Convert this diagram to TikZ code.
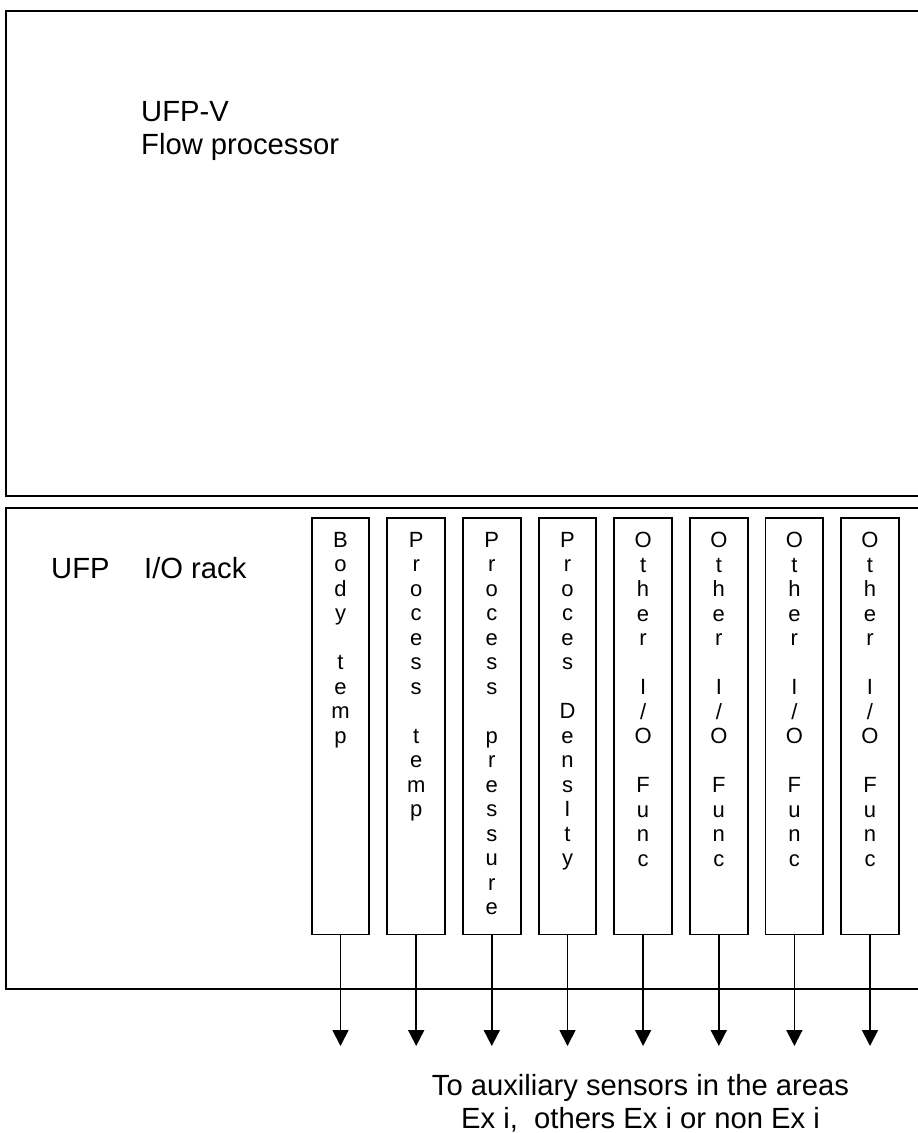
\documentclass[tikz,border=0pt]{standalone}
\usepackage{fontspec}
\setmainfont{Liberation Sans}
\usetikzlibrary{arrows.meta}
\begin{document}
\begin{tikzpicture}[x=1pt,y=-1pt,
  frame/.style={draw, line width=1.7pt, rectangle, inner sep=0pt, minimum width=925pt, anchor=north west},
  module/.style={draw, line width=1.8pt, rectangle, minimum width=57.7pt, minimum height=416.8pt, inner sep=0pt},
  modtext/.style={anchor=north, inner sep=0pt, align=center, font=\fontsize{22pt}{24.5pt}\selectfont},
  big/.style={font=\fontsize{29.2pt}{33pt}\selectfont, inner sep=0pt},
  arr/.style={line width=1.8pt, -{Triangle[width=16pt,length=16pt]}}]
\useasboundingbox (0,0) rectangle (918,1133);
\clip (0,0) rectangle (918,1133);
% main frames
\node[frame, minimum height=485pt] (proc) at (5,10) {};
\node[frame, minimum height=481pt] (rack) at (5,507) {};
% labels
\node[big, anchor=north west, align=left] (proclabel) at (141,101.4) {UFP-V\\Flow processor};
\node[big, anchor=base west] (ufp) at (51,578.3) {UFP};
\node[big, anchor=base west] (iorack) at (144,578.3) {I/O rack};
% modules
\node[module] (m1) at (340.5,726.1) {};
\node[module] (m2) at (416.2,726.1) {};
\node[module] (m3) at (491.8,726.1) {};
\node[module] (m4) at (567.5,726.1) {};
\node[module] (m5) at (643.1,726.1) {};
\node[module] (m6) at (718.8,726.1) {};
\node[module] (m7) at (794.4,726.1) {};
\node[module] (m8) at (870.0,726.1) {};
% module texts
\node[modtext] (t1) at (340.5,532.0) {B\\o\\d\\y\\\mbox{}\\t\\e\\m\\p};
\node[modtext] (t2) at (416.2,532.0) {P\\r\\o\\c\\e\\s\\s\\\mbox{}\\t\\e\\m\\p};
\node[modtext] (t3) at (491.8,532.0) {P\\r\\o\\c\\e\\s\\s\\\mbox{}\\p\\r\\e\\s\\s\\u\\r\\e};
\node[modtext] (t4) at (567.5,532.0) {P\\r\\o\\c\\e\\s\\\mbox{}\\D\\e\\n\\s\\I\\t\\y};
\node[modtext] (t5) at (643.1,532.0) {O\\t\\h\\e\\r\\\mbox{}\\I\\/\\O\\\mbox{}\\F\\u\\n\\c};
\node[modtext] (t6) at (718.8,532.0) {O\\t\\h\\e\\r\\\mbox{}\\I\\/\\O\\\mbox{}\\F\\u\\n\\c};
\node[modtext] (t7) at (794.4,532.0) {O\\t\\h\\e\\r\\\mbox{}\\I\\/\\O\\\mbox{}\\F\\u\\n\\c};
\node[modtext] (t8) at (870.0,532.0) {O\\t\\h\\e\\r\\\mbox{}\\I\\/\\O\\\mbox{}\\F\\u\\n\\c};
% arrow ends
\coordinate (a1) at (340.5,1046);
\coordinate (a2) at (416.2,1046);
\coordinate (a3) at (491.8,1046);
\coordinate (a4) at (567.5,1046);
\coordinate (a5) at (643.1,1046);
\coordinate (a6) at (718.8,1046);
\coordinate (a7) at (794.4,1046);
\coordinate (a8) at (870.0,1046);
\foreach \i in {1,...,8} { \draw[arr] (m\i.south) -- (a\i); }
% bottom text
\node[big, anchor=north, align=center] (note) at (640.5,1074.1) {To auxiliary sensors in the areas\\Ex i,\ \ others Ex i or non Ex i};
\end{tikzpicture}
\end{document}
